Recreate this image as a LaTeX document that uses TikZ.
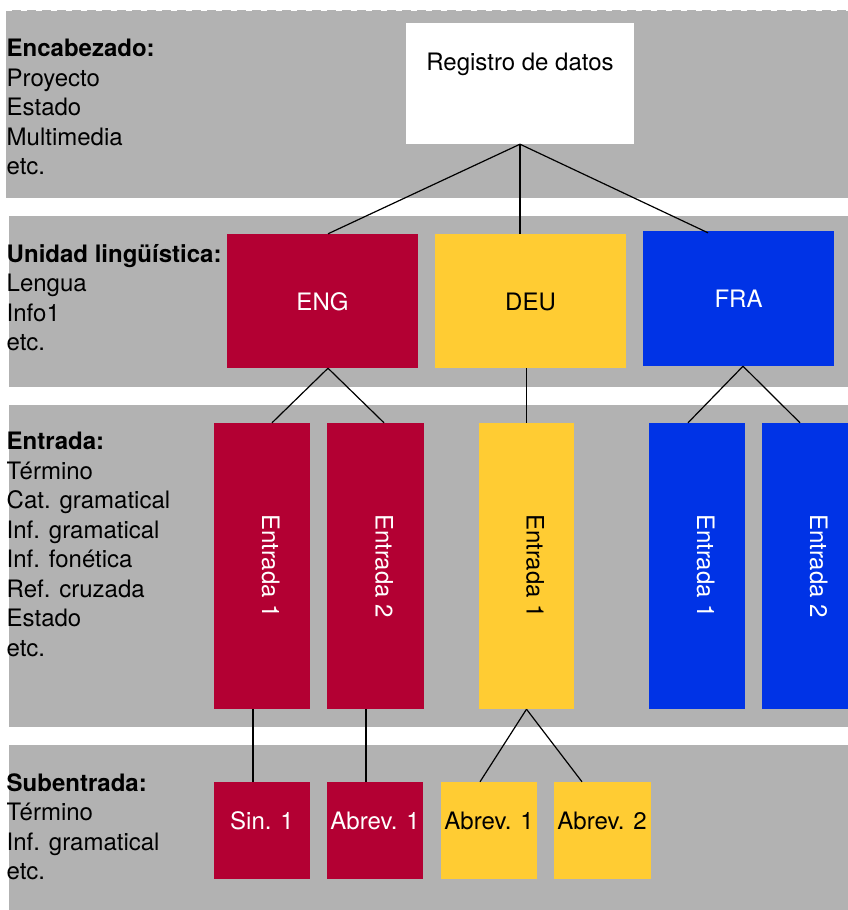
\documentclass[tikz,border=0pt]{standalone}
\usepackage{fontspec}
\setmainfont{TeX Gyre Heros}
\usetikzlibrary{calc}
\definecolor{bandgray}{RGB}{178,178,178}
\definecolor{engred}{RGB}{179,0,51}
\definecolor{deuyellow}{RGB}{255,204,51}
\definecolor{frablue}{RGB}{0,51,230}
\begin{document}
\begin{tikzpicture}[x=1pt,y=-1pt,
  band/.style={fill=bandgray},
  box/.style={rectangle, inner sep=0pt, draw=none},
  lbl/.style={inner sep=0pt, font=\fontsize{24}{29.5}\selectfont},
  conn/.style={draw=black, line width=1.2pt}]
\clip (0,0) rectangle (848,910);
% bands
\fill[band] (6,10) rectangle (848,198);
\fill[band] (9,216) rectangle (848,387);
\fill[band] (9,405) rectangle (848,727);
\fill[band] (9,745) rectangle (848,910);
\draw[white, line width=1.5pt, dash pattern=on 6pt off 9pt] (6,10.5) -- (848,10.5);
% left labels (anchored at the baseline of the last line)
\node[lbl, align=left, anchor=base west] (h1) at (6.5,174.5) {\textbf{Encabezado:}\\Proyecto\\Estado\\Multimedia\\etc.};
\node[lbl, align=left, anchor=base west] (h2) at (6.5,350.5) {\textbf{Unidad lingüística:}\\Lengua\\Info1\\etc.};
\node[lbl, align=left, anchor=base west] (h3) at (6.5,656) {\textbf{Entrada:}\\Término\\Cat. gramatical\\Inf. gramatical\\Inf. fonética\\Ref. cruzada\\Estado\\etc.};
\node[lbl, align=left, anchor=base west] (h4) at (6.5,879.5) {\textbf{Subentrada:}\\Término\\Inf. gramatical\\etc.};
% top
\node[box, fill=white, minimum width=228, minimum height=121] (reg) at (520,83.5) {};
\node[lbl, anchor=base] (regt) at (520,70.5) {Registro de datos};
% languages
\node[box, fill=engred, minimum width=191, minimum height=134] (eng) at (322.5,301) {};
\node[box, fill=deuyellow, minimum width=191, minimum height=134] (deu) at (530.5,301) {};
\node[box, fill=frablue, minimum width=191, minimum height=135] (fra) at (738.5,298.5) {};
\node[lbl, anchor=base, text=white] (engt) at ($(eng.center)+(0,9)$) {ENG};
\node[lbl, anchor=base, text=black] (deut) at ($(deu.center)+(0,9)$) {DEU};
\node[lbl, anchor=base, text=white] (frat) at ($(fra.center)+(0,9)$) {FRA};
% entries
\node[box, fill=engred, minimum width=96, minimum height=286] (e1) at (262,566) {};
\node[box, fill=engred, minimum width=97, minimum height=286] (e2) at (375.5,566) {};
\node[box, fill=deuyellow, minimum width=95, minimum height=286] (de1) at (526.5,566) {};
\node[box, fill=frablue, minimum width=96, minimum height=286] (fe1) at (697,566) {};
\node[box, fill=frablue, minimum width=96, minimum height=286] (fe2) at (810,566) {};
\node[lbl, rotate=-90, anchor=base, text=white] (e1t) at (e1.center) {Entrada 1};
\node[lbl, rotate=-90, anchor=base, text=white] (e2t) at (e2.center) {Entrada 2};
\node[lbl, rotate=-90, anchor=base, text=black] (de1t) at (de1.center) {Entrada 1};
\node[lbl, rotate=-90, anchor=base, text=white] (fe1t) at (fe1.center) {Entrada 1};
\node[lbl, rotate=-90, anchor=base, text=white] (fe2t) at (fe2.center) {Entrada 2};
% sub-entries
\node[box, fill=engred, minimum width=96, minimum height=97] (s1) at (262,830.5) {};
\node[box, fill=engred, minimum width=96, minimum height=97] (a1) at (375,830.5) {};
\node[box, fill=deuyellow, minimum width=96, minimum height=97] (ya1) at (489,830.5) {};
\node[box, fill=deuyellow, minimum width=97, minimum height=97] (ya2) at (602,830.5) {};
\node[lbl, anchor=base, text=white] (s1t) at (262,829) {Sin. 1};
\node[lbl, anchor=base, text=white] (a1t) at (375,829) {Abrev. 1};
\node[lbl, anchor=base, text=black] (ya1t) at (489,829) {Abrev. 1};
\node[lbl, anchor=base, text=black] (ya2t) at (602,829) {Abrev. 2};
% connectors
\draw[conn] (reg.south) -- ($(eng.north)+(5.5,0)$);
\draw[conn] (reg.south) -- (reg.south |- deu.north);
\draw[conn] (reg.south) -- ($(fra.north)+(-30.5,2)$);
\draw[conn] ($(eng.south)+(5.5,0)$) -- ($(e1.north)+(10,0)$);
\draw[conn] ($(eng.south)+(5.5,0)$) -- ($(e2.north)+(8.5,0)$);
\draw[conn] (de1.north |- deu.south) -- (de1.north);
\draw[conn] ($(fra.south)+(4.5,0)$) -- ($(fe1.north)+(-9,0)$);
\draw[conn] ($(fra.south)+(4.5,0)$) -- ($(fe2.north)+(-10,0)$);
\draw[conn] ($(e1.south)+(-9,0)$) -- ($(s1.north)+(-9,0)$);
\draw[conn] ($(e2.south)+(-9.5,0)$) -- ($(a1.north)+(-9,0)$);
\draw[conn] (de1.south) -- ($(ya1.north)+(-9,0)$);
\draw[conn] (de1.south) -- ($(ya2.north)+(-20,0)$);
\end{tikzpicture}
\end{document}
